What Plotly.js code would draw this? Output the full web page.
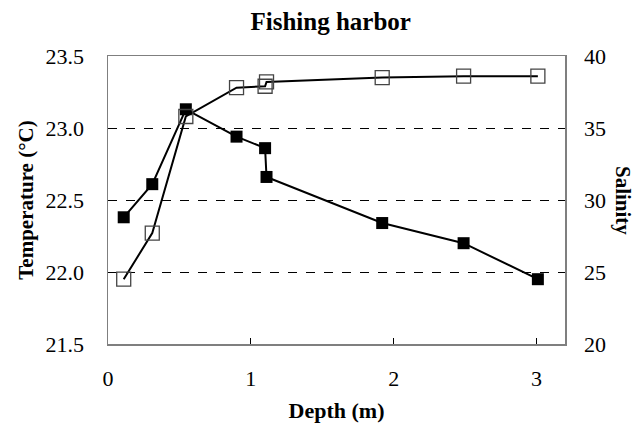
<!DOCTYPE html>
<html>
<head>
<meta charset="utf-8">
<script src="https://cdn.plot.ly/plotly-3.0.1.min.js"></script>
<style>html,body{margin:0;padding:0;background:#fff;}#chart{width:636px;height:424px;}</style>
</head>
<body>
<div id="chart"></div>
<script>
const depthTemp = [0.11, 0.31, 0.545, 0.90, 1.10, 1.11, 1.92, 2.49, 3.01];
const temperature = [22.38, 22.61, 23.13, 22.94, 22.86, 22.66, 22.34, 22.20, 21.95];
const depthSal = [0.11, 0.31, 0.545, 0.90, 1.10, 1.11, 1.92, 2.49, 3.01];
const salinity = [24.5, 27.7, 35.8, 37.8, 37.9, 38.2, 38.5, 38.6, 38.6];
const xTicks = [0, 1, 2, 3];
const tempTicks = [21.5, 22.0, 22.5, 23.0, 23.5];
const salTicks = [20, 25, 30, 35, 40];

const FONT = "'Liberation Serif', 'Times New Roman', serif";
const axisColor = "#7f7f7f";

const traces = [
  {
    x: depthSal, y: salinity, yaxis: "y2", type: "scatter", mode: "lines+markers",
    line: {color: "#000", width: 2},
    marker: {symbol: "square-open", size: 14, color: "#444", line: {width: 1.3, color: "#444"}},
    showlegend: false, hoverinfo: "skip"
  },
  {
    x: depthTemp, y: temperature, type: "scatter", mode: "lines+markers",
    line: {color: "#000", width: 2},
    marker: {symbol: "square", size: 12, color: "#000"},
    showlegend: false, hoverinfo: "skip"
  }
];

const layout = {
  width: 636, height: 424,
  margin: {l: 108, r: 71, t: 56, b: 80},
  paper_bgcolor: "#fff", plot_bgcolor: "#fff",
  font: {family: FONT, color: "#000", size: 20},
  title: {text: "<b>Fishing harbor</b>", x: 0.52, xanchor: "center", y: 0.95, yanchor: "middle", font: {family: FONT, size: 25, color: "#000"}},
  xaxis: {
    range: [0, 3.2], tickvals: xTicks, ticktext: xTicks.map(String),
    ticks: "inside", ticklen: 6, tickcolor: "#000", tickwidth: 1,
    showline: true, linecolor: axisColor, linewidth: 1.5, mirror: true,
    showgrid: false, zeroline: false,
    tickfont: {family: FONT, size: 22}, ticklabelstandoff: 14,
    title: {text: "<b>Depth (m)</b>", font: {family: FONT, size: 22}, standoff: 12}
  },
  yaxis: {
    range: [21.5, 23.5], tickvals: tempTicks, ticktext: tempTicks.map(v => v.toFixed(1)),
    ticks: "inside", ticklen: 6, tickcolor: "#000", tickwidth: 1,
    showline: true, linecolor: axisColor, linewidth: 1.5, mirror: true,
    showgrid: true, gridcolor: "#000", griddash: "dash", gridwidth: 1,
    zeroline: false,
    tickfont: {family: FONT, size: 22}, ticklabelstandoff: 18,
    title: {text: ""}
  },
  yaxis2: {
    overlaying: "y", side: "right",
    range: [20, 40], tickvals: salTicks, ticktext: salTicks.map(String),
    ticks: "inside", ticklen: 6, tickcolor: "#000", tickwidth: 1,
    showline: false, showgrid: false, zeroline: false,
    tickfont: {family: FONT, size: 22}, ticklabelstandoff: 18,
    title: {text: ""}
  },
  annotations: [
    {text: "<b>Temperature (°C)</b>", xref: "paper", yref: "paper", x: -0.18, y: 0.5, xanchor: "center", yanchor: "middle", textangle: -90, showarrow: false, font: {family: FONT, size: 21}},
    {text: "<b>Salinity</b>", xref: "paper", yref: "paper", x: 1.127, y: 0.5, xanchor: "center", yanchor: "middle", textangle: 90, showarrow: false, font: {family: FONT, size: 21}}
  ]
};

Plotly.newPlot("chart", traces, layout, {displayModeBar: false, staticPlot: true});
</script>
</body>
</html>
